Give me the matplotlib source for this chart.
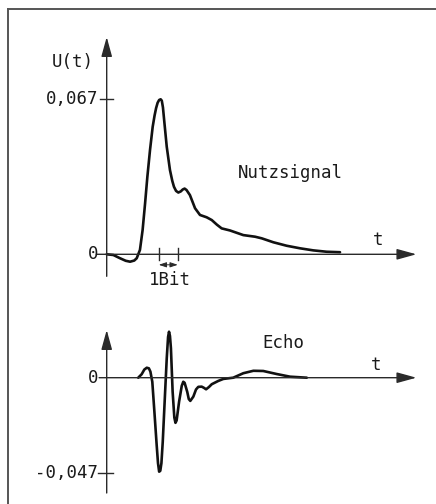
import matplotlib
matplotlib.use("Agg")
import matplotlib.pyplot as plt
from matplotlib.lines import Line2D

# ---------------- data (t in bit units, U in volts) ----------------
nutz_t = [0, 0.35, 0.70, 1.00, 1.23, 1.45, 1.58, 1.75, 1.89, 2.02, 2.14, 2.28, 2.42, 2.52,
          2.60, 2.68, 2.76, 2.84, 2.90, 2.96, 3.03, 3.16, 3.33, 3.45, 3.54, 3.65, 3.77, 3.90,
          4.0, 4.10, 4.20, 4.38, 4.65, 4.91, 5.26, 5.53, 5.80, 6.05, 6.49, 7.19, 7.81, 8.16,
          8.77, 9.47, 10.17, 10.87, 11.58, 12.28]
nutz_u = [0, -0.0003, -0.0017, -0.0028, -0.0032, -0.0027, -0.0017, 0.0019, 0.0105, 0.0220,
          0.0335, 0.0451, 0.0551, 0.0600, 0.0632, 0.0655, 0.0667, 0.0670, 0.0664, 0.0635,
          0.0575, 0.0465, 0.0364, 0.0318, 0.0292, 0.0274, 0.0267, 0.0272, 0.0280, 0.0284,
          0.0278, 0.0256, 0.0199, 0.0170, 0.0160, 0.0148, 0.0128, 0.0112, 0.0103, 0.0083,
          0.0076, 0.0069, 0.0052, 0.0037, 0.0026, 0.0017, 0.0011, 0.0009]

echo_t = [1.66, 1.84, 1.98, 2.11, 2.22, 2.30, 2.40, 2.51, 2.63, 2.70, 2.76, 2.82, 2.88, 2.95,
          3.05, 3.16, 3.23, 3.28, 3.33, 3.38, 3.47, 3.56, 3.62, 3.68, 3.81, 3.95, 4.03, 4.10,
          4.24, 4.32, 4.40, 4.56, 4.70, 4.82, 5.0, 5.12, 5.23, 5.38, 5.53, 5.87, 6.14, 6.66,
          7.19, 7.72, 8.24, 8.95, 9.65, 10.53]
echo_u = [0, 0.0017, 0.0040, 0.0049, 0.0046, 0.0030, -0.0020, -0.0167, -0.0331, -0.0420,
          -0.0462, -0.0458, -0.0420, -0.0315, -0.0118, 0.0095, 0.0200, 0.0226, 0.0205,
          0.0145, -0.0069, -0.0196, -0.0222, -0.0210, -0.0118, -0.0040, -0.0020, -0.0025,
          -0.0070, -0.0105, -0.0114, -0.0093, -0.0058, -0.0045, -0.0044, -0.0050, -0.0057,
          -0.0046, -0.0032, -0.0016, -0.0006, 0, 0.0022, 0.0034, 0.0033, 0.0018, 0.0005, 0]

top_ticks = [0, 0.067]
top_tick_labels = ["0", "0,067"]
bot_ticks = [0, -0.047]
bot_tick_labels = ["0", "-0,047"]
bit_ticks = [2.74, 3.74]

# ---------------- figure ----------------
W, H = 436, 504
fig = plt.figure(figsize=(W / 100, H / 100), dpi=100)
fig.patch.set_facecolor("white")

FONT = dict(family="DejaVu Sans Mono", fontsize=12.5, color="#1a1a1a")
AXC = "#2a2a2a"
CURVE = "#111111"

x0_px, px_per_bit = 106.7, 19.0
xlim = ((0 - x0_px) / px_per_bit, (W - x0_px) / px_per_bit)


def make_axes(ytop_px, ybot_px, zero_px, u_per_px):
    ax = fig.add_axes([0, 1 - ybot_px / H, 1, (ybot_px - ytop_px) / H])
    ax.set_xlim(*xlim)
    ax.set_ylim(-(ybot_px - zero_px) * u_per_px, (zero_px - ytop_px) * u_per_px)
    ax.axis("off")
    return ax


def arrow(ax, x1, y1, x2, y2, style="-|>,head_length=0.8,head_width=0.22", ms=15, lw=1.0):
    ax.annotate("", xy=(x2, y2), xytext=(x1, y1),
                arrowprops=dict(arrowstyle=style, lw=lw, color=AXC, mutation_scale=ms,
                                shrinkA=0, shrinkB=0))


# ---- top panel (Nutzsignal) ----
s1 = 0.067 / 155.0
ax1 = make_axes(20, 300, 254.3, s1)
arrow(ax1, -0.55, 0, 16.3, 0)
arrow(ax1, 0, -22 * s1, 0, (254.3 - 37) * s1)
ax1.plot([-0.37, 0.32], [top_ticks[1], top_ticks[1]], color=AXC, lw=1.0)
for b in bit_ticks:
    ax1.plot([b, b], [-6 * s1, 6 * s1], color=AXC, lw=1.0)
arrow(ax1, bit_ticks[0], -10.5 * s1, bit_ticks[1], -10.5 * s1,
      style="<|-|>,head_length=0.9,head_width=0.3", ms=5, lw=0.7)
ax1.plot(nutz_t, nutz_u, color=CURVE, lw=1.9, solid_joinstyle="round", solid_capstyle="round")
for v, lab in zip(top_ticks, top_tick_labels):
    ax1.text(-0.42, v, lab, ha="right", va="center", **FONT)
ax1.text(-1.79, 0.0832, "U(t)", ha="center", va="center", **FONT)
ax1.text(9.65, 0.0351, "Nutzsignal", ha="center", va="center", **FONT)
ax1.text(14.26, 0.0062, "t", ha="center", va="center", **FONT)
ax1.text(3.33, -0.0111, "1Bit", ha="center", va="center", **FONT)

# ---- bottom panel (Echo) ----
s2 = 0.047 / 95.6
ax2 = make_axes(310, 504, 377.7, s2)
arrow(ax2, -0.4, 0, 16.3, 0)
arrow(ax2, 0, -(493 - 377.7) * s2, 0, (377.7 - 330) * s2)
ax2.plot([-0.45, 0.32], [bot_ticks[1], bot_ticks[1]], color=AXC, lw=1.0)
ax2.plot(echo_t, echo_u, color=CURVE, lw=1.9, solid_joinstyle="round", solid_capstyle="round")
for v, lab in zip(bot_ticks, bot_tick_labels):
    ax2.text(-0.45, v, lab, ha="right", va="center", **FONT)
ax2.text(9.28, 0.0171, "Echo", ha="center", va="center", **FONT)
ax2.text(14.16, 0.0062, "t", ha="center", va="center", **FONT)

# ---- frame (top and left border) ----
fig.add_artist(Line2D([8 / W, 1], [1 - 9 / H, 1 - 9 / H], color="#555555", lw=1.4))
fig.add_artist(Line2D([8 / W, 8 / W], [1 - 9 / H, 0], color="#555555", lw=1.4))

fig.savefig("out.png", dpi=100, facecolor="white")
